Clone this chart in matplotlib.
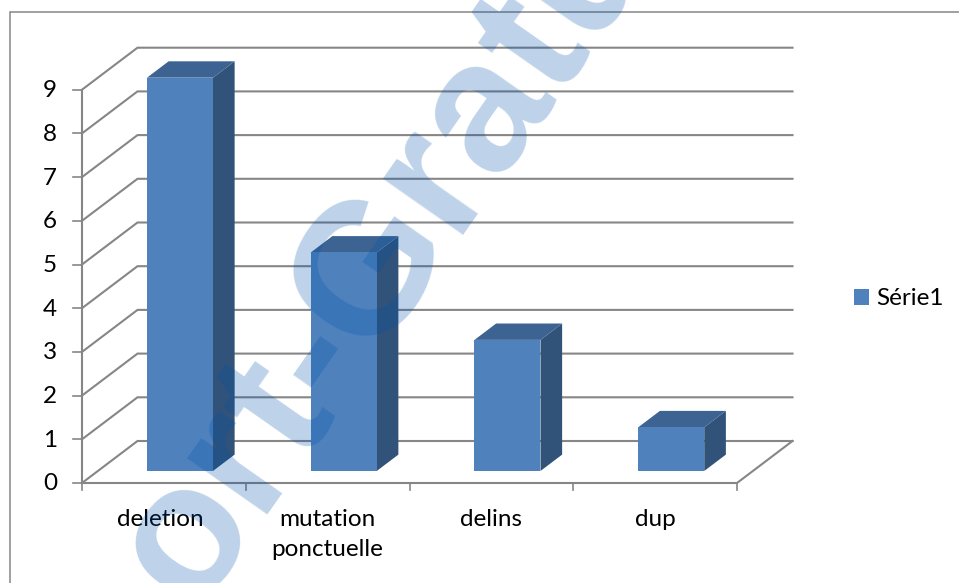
from matplotlib import pyplot as plt
from matplotlib.patches import Patch, Polygon, Rectangle

# Dane z wykresu
categories = ['deletion', 'mutation\nponctuelle', 'delins', 'dup']
values = [9, 5, 3, 1]
y_ticks = [0, 1, 2, 3, 4, 5, 6, 7, 8, 9]
series_name = 'Série1'

WIDTH, HEIGHT = 959, 583
# Pozycja poczatku osi i skala w pikselach
X0, Y0 = 82, 483
CAT_PX, VAL_PX = 163.75, 43.7
# Przesuniecie glebi w jednostkach danych
DX, DY = 55.5 / CAT_PX, 42 / VAL_PX

GRID = '#868686'
FRONT, SIDE, TOP = '#4F81BD', '#325379', '#3C6391'
FONT_SIZE = 17.5

plt.rcParams['font.family'] = ['Lato', 'DejaVu Sans']

fig = plt.figure(figsize=(WIDTH / 100, HEIGHT / 100), dpi=100)
ax = fig.add_axes([0, 0, 1, 1])
ax.set_xlim(-X0 / CAT_PX, (WIDTH - X0) / CAT_PX)
ax.set_ylim((Y0 - HEIGHT) / VAL_PX, Y0 / VAL_PX)
ax.axis('off')

# Ramka wykresu, prawa i dolna krawedz poza obrazem
fig.add_artist(Rectangle((9.5 / WIDTH, -0.1), 1.2, 1.1 - 12.5 / HEIGHT,
                         transform=fig.transFigure, fill=False,
                         edgecolor=GRID, linewidth=1.1))

n = len(categories)

# Linie siatki na tylnej i bocznej scianie
for v in y_ticks:
    ax.plot([0, DX, n + DX], [v, v + DY, v + DY], color=GRID, lw=1.5,
            solid_joinstyle='miter', zorder=1)
    ax.plot([-9 / CAT_PX, 0], [v, v], color=GRID, lw=1.2, zorder=1)
    ax.text(-25 / CAT_PX, v - 1 / VAL_PX, str(v), ha='right', va='center', fontsize=FONT_SIZE,
            color='black', zorder=5)

# Osie i podloga
ax.plot([0, 0], [0, max(y_ticks)], color=GRID, lw=1.5, zorder=1)
ax.plot([0, n, n + DX], [0, 0, DY], color=GRID, lw=1.5, zorder=1)
for i in range(n + 1):
    ax.plot([i, i], [0, -7 / VAL_PX], color=GRID, lw=1.2, zorder=1)

# Slupki 3D
bar_left, bar_width = 0.3, 0.403
near, far = 0.286, 0.676
for i, v in enumerate(values):
    x1 = i + bar_left
    x2 = x1 + bar_width
    bx, by = near * DX, near * DY
    fx, fy = far * DX, far * DY
    ax.add_patch(Polygon([(x2 + bx, by), (x2 + fx, fy), (x2 + fx, v + fy),
                          (x2 + bx, v + by)], facecolor=SIDE, edgecolor='none', zorder=3))
    ax.add_patch(Polygon([(x1 + bx, v + by), (x2 + bx, v + by), (x2 + fx, v + fy),
                          (x1 + fx, v + fy)], facecolor=TOP, edgecolor='none', zorder=3))
    ax.add_patch(Polygon([(x1 + bx, by), (x2 + bx, by), (x2 + bx, v + by),
                          (x1 + bx, v + by)], facecolor=FRONT, edgecolor='none', zorder=4))

# Etykiety kategorii
for i, label in enumerate(categories):
    shift = -4 / CAT_PX if i == 0 else 0
    ax.text(i + 0.5 + shift, -26 / VAL_PX, label, ha='center', va='top', fontsize=FONT_SIZE,
            linespacing=1.55, color='black', zorder=5)

leg = ax.legend(handles=[Patch(facecolor=FRONT, label=series_name)], frameon=False,
                loc='center left', bbox_to_anchor=(854 / WIDTH, 1 - 299 / HEIGHT),
                fontsize=FONT_SIZE, handlelength=0.62, handleheight=0.62, handletextpad=0.3,
                borderpad=0, borderaxespad=0)

# Znak wodny na wierzchu
fig.text(193 / WIDTH, 1 - 611 / HEIGHT, 'ort-Gratuit', rotation=55, rotation_mode='anchor',
         ha='left', va='baseline', fontsize=134, fontweight='bold', family='Liberation Sans',
         color=(0.0, 0.32, 0.67), alpha=0.26, zorder=10)

fig.savefig('out.png', dpi=100)
